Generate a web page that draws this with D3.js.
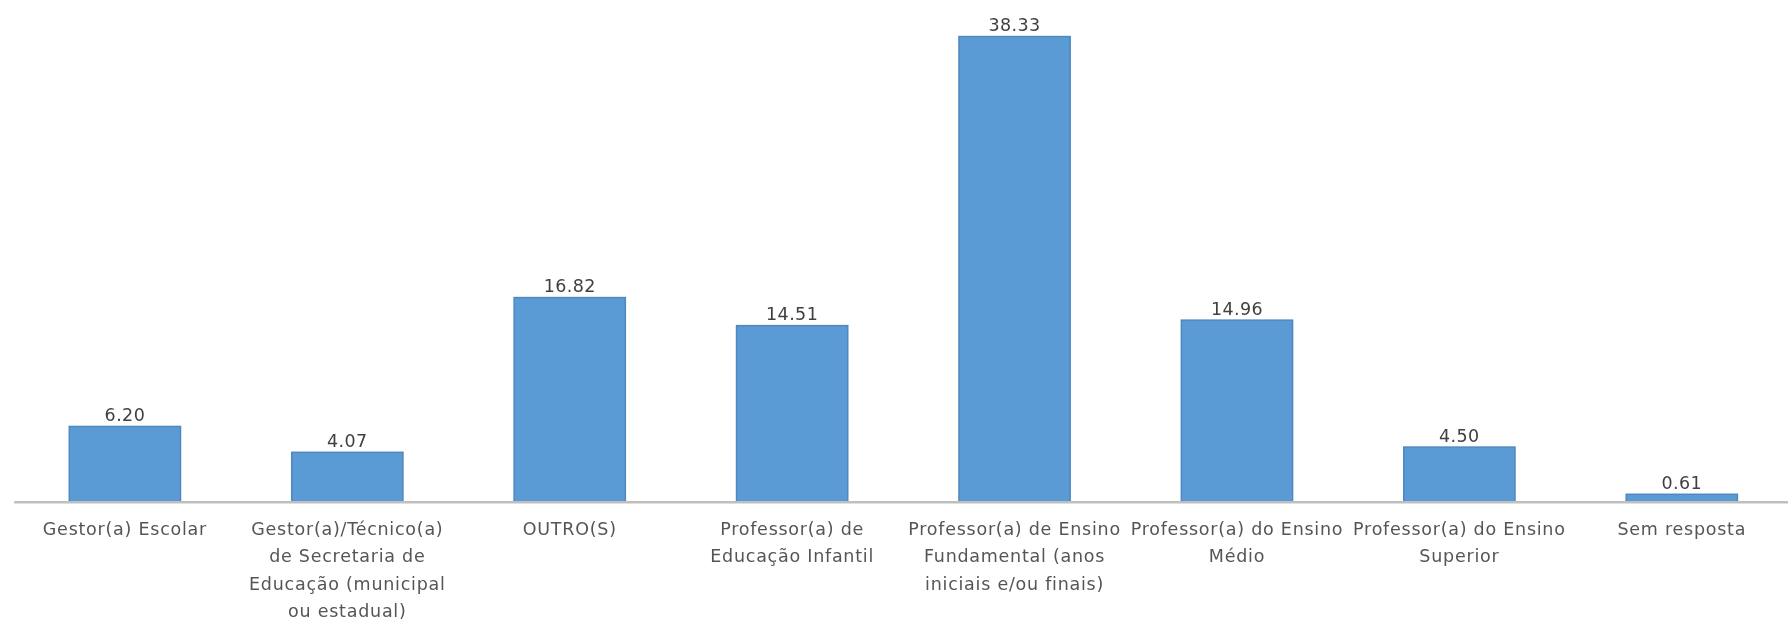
<!DOCTYPE html>
<html>
<head>
<meta charset="utf-8">
<script src="https://cdn.jsdelivr.net/npm/d3@7"></script>
<style>
  html, body { margin: 0; padding: 0; background: #fff; }
  svg { display: block; }
</style>
</head>
<body>
<script>
// Respondent profile: share of answers per role (%)
const categories = [
  "Gestor(a) Escolar",
  "Gestor(a)/Técnico(a) de Secretaria de Educação (municipal ou estadual)",
  "OUTRO(S)",
  "Professor(a) de Educação Infantil",
  "Professor(a) de Ensino Fundamental (anos iniciais e/ou finais)",
  "Professor(a) do Ensino Médio",
  "Professor(a) do Ensino Superior",
  "Sem resposta"
];
const values = [6.20, 4.07, 16.82, 14.51, 38.33, 14.96, 4.50, 0.61];

// Wrapped lines for each category label on the x axis
const tickLines = [
  ["Gestor(a) Escolar"],
  ["Gestor(a)/Técnico(a)", "de Secretaria de", "Educação (municipal", "ou estadual)"],
  ["OUTRO(S)"],
  ["Professor(a) de", "Educação Infantil"],
  ["Professor(a) de Ensino", "Fundamental (anos", "iniciais e/ou finais)"],
  ["Professor(a) do Ensino", "Médio"],
  ["Professor(a) do Ensino", "Superior"],
  ["Sem resposta"]
];

const W = 1788, H = 627;
const baseY = 501.7;

const svg = d3.select("body").append("svg")
  .attr("width", W).attr("height", H);

// Slight softening applied to the text
const defs = svg.append("defs");
defs.append("filter").attr("id", "soft")
  .append("feGaussianBlur").attr("stdDeviation", 0.45);

const x = d3.scaleBand()
  .domain(categories)
  .range([13.7, 1793])
  .paddingInner(0.5)
  .paddingOuter(0.25);

const y = d3.scaleLinear()
  .domain([0, 40])
  .range([baseY, baseY - 485.4]);

const font = "'DejaVu Sans', sans-serif";

// Bars
svg.append("g").selectAll("rect")
  .data(values)
  .join("rect")
  .attr("x", (d, i) => x(categories[i]))
  .attr("y", d => y(d))
  .attr("width", x.bandwidth())
  .attr("height", d => baseY - y(d))
  .attr("fill", "#5b9bd5")
  .attr("stroke", "#4f88bd")
  .attr("stroke-width", 1.5);

// Category axis
const axis = d3.axisBottom(x).tickSize(0).tickFormat("");
const gAxis = svg.append("g")
  .attr("transform", `translate(0,${baseY})`)
  .call(axis);
gAxis.select(".domain")
  .attr("stroke", "#bfbfbf")
  .attr("stroke-width", 2.5);

// Multi-line category labels
gAxis.selectAll(".tick").each(function (d, i) {
  const t = d3.select(this).append("text")
    .attr("fill", "#555555")
    .attr("font-family", font)
    .attr("font-size", 17.5)
    .attr("letter-spacing", 0.75)
    .attr("text-anchor", "middle")
    .attr("filter", "url(#soft)");
  tickLines[i].forEach((line, k) => {
    t.append("tspan")
      .attr("x", 0)
      .attr("y", 33 + k * 27.5)
      .text(line);
  });
});

// Value labels above bars
svg.append("g").selectAll("text")
  .data(values)
  .join("text")
  .attr("x", (d, i) => x(categories[i]) + x.bandwidth() / 2)
  .attr("y", d => y(d) - 5.5)
  .attr("text-anchor", "middle")
  .attr("fill", "#404040")
  .attr("font-family", font)
  .attr("font-size", 17.5)
  .attr("letter-spacing", 0.4)
  .attr("filter", "url(#soft)")
  .text(d => d.toFixed(2));
</script>
</body>
</html>
